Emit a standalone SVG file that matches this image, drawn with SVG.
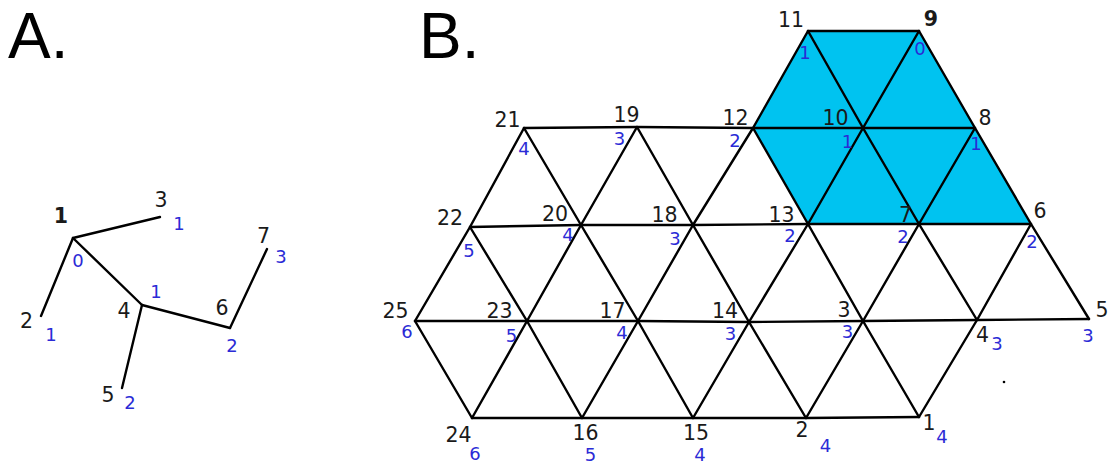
<svg xmlns="http://www.w3.org/2000/svg" width="1110" height="464" viewBox="0 0 1110 464">
<style>
.e{fill:none;stroke:#000;stroke-width:2.4;stroke-linejoin:round;stroke-linecap:round}
.n{font-family:"DejaVu Sans",sans-serif;font-size:20.5px;fill:#1a1a1a;text-anchor:middle}
.b{font-weight:bold}
.i{font-family:"DejaVu Sans",sans-serif;font-size:18px;fill:#2b2bd6;text-anchor:middle}
.h{font-family:"Liberation Sans",Arial,sans-serif;font-size:64px;fill:#000}
</style>
<rect width="1110" height="464" fill="#fff"/>
<text class="h" x="8" y="58">A.</text>
<text class="h" x="419" y="58">B.</text>
<polygon points="808,31 919,31 1031,224 808,224 753,128" fill="#00c3f0"/>
<g id="connectors">
<!-- Panel A -->
<line class="e" x1="73" y1="238" x2="160" y2="217"/>
<line class="e" x1="73" y1="238" x2="41" y2="316"/>
<line class="e" x1="73" y1="238" x2="142" y2="305"/>
<line class="e" x1="142" y1="305" x2="230" y2="328"/>
<line class="e" x1="230" y1="328" x2="267" y2="249"/>
<line class="e" x1="142" y1="305" x2="122" y2="388"/>
<!-- Panel B horizontals -->
<polyline class="e" points="808,31 919,31"/>
<polyline class="e" points="524,128 637,127 753,128 863,128 975,128"/>
<polyline class="e" points="470,227 581,225 693,225 808,224 919,224 1031,224"/>
<polyline class="e" points="415,321 527,321 638,321 749,322 863,321 977,320 1089,319"/>
<polyline class="e" points="472,418 582,418 693,418 806,418 919,417"/>
<!-- "/" diagonals -->
<polyline class="e" points="582,418 638,321 693,225 753,128 808,31"/>
<polyline class="e" points="693,418 749,322 808,224 863,128 919,31"/>
<polyline class="e" points="806,418 863,321 919,224 975,128"/>
<polyline class="e" points="919,417 977,320 1031,224"/>
<polyline class="e" points="472,418 527,321 581,225 637,127"/>
<polyline class="e" points="415,321 470,227 524,128"/>
<!-- "\" diagonals -->
<polyline class="e" points="808,31 863,128 919,224 977,320"/>
<polyline class="e" points="919,31 975,128 1031,224 1089,319"/>
<polyline class="e" points="753,128 808,224 863,321 919,417"/>
<polyline class="e" points="637,127 693,225 749,322 806,418"/>
<polyline class="e" points="524,128 581,225 638,321 693,418"/>
<polyline class="e" points="470,227 527,321 582,418"/>
<polyline class="e" points="415,321 472,418"/>
</g>
<!-- Panel A nodes -->
<g id="a1"><text class="n b" x="61" y="223">1</text><text class="i" x="78" y="267">0</text></g>
<g id="a2"><text class="n" x="26.5" y="328">2</text><text class="i" x="51" y="341">1</text></g>
<g id="a3"><text class="n" x="161" y="207">3</text><text class="i" x="179" y="230">1</text></g>
<g id="a4"><text class="n" x="124" y="318">4</text><text class="i" x="156" y="298">1</text></g>
<g id="a5"><text class="n" x="108" y="402">5</text><text class="i" x="130" y="409">2</text></g>
<g id="a6"><text class="n" x="222" y="315">6</text><text class="i" x="232" y="352">2</text></g>
<g id="a7"><text class="n" x="263.5" y="243">7</text><text class="i" x="281" y="263">3</text></g>
<!-- Panel B nodes -->
<g id="b11"><text class="n" x="791" y="27">11</text><text class="i" x="805" y="59">1</text></g>
<g id="b9"><text class="n b" x="931" y="26">9</text><text class="i" x="920" y="55">0</text></g>
<g id="b10"><text class="n" x="835.5" y="125">10</text><text class="i" x="847.5" y="148">1</text></g>
<g id="b8"><text class="n" x="985" y="125">8</text><text class="i" x="976" y="150">1</text></g>
<g id="b12"><text class="n" x="735.5" y="125">12</text><text class="i" x="735" y="147">2</text></g>
<g id="b21"><text class="n" x="507.5" y="127">21</text><text class="i" x="524" y="155">4</text></g>
<g id="b19"><text class="n" x="626.5" y="122">19</text><text class="i" x="619.5" y="145">3</text></g>
<g id="b22"><text class="n" x="450" y="225">22</text><text class="i" x="469" y="257">5</text></g>
<g id="b20"><text class="n" x="555" y="221">20</text><text class="i" x="568" y="241">4</text></g>
<g id="b18"><text class="n" x="664.5" y="222">18</text><text class="i" x="675" y="245">3</text></g>
<g id="b13"><text class="n" x="781.5" y="222">13</text><text class="i" x="790" y="242">2</text></g>
<g id="b7"><text class="n" x="905.5" y="222">7</text><text class="i" x="903" y="243">2</text></g>
<g id="b6"><text class="n" x="1040" y="218">6</text><text class="i" x="1032" y="248">2</text></g>
<g id="b25"><text class="n" x="395.5" y="318">25</text><text class="i" x="407" y="338">6</text></g>
<g id="b23"><text class="n" x="499.5" y="318">23</text><text class="i" x="511.5" y="342">5</text></g>
<g id="b17"><text class="n" x="612.5" y="318">17</text><text class="i" x="622" y="339">4</text></g>
<g id="b14"><text class="n" x="725" y="318">14</text><text class="i" x="730.5" y="340">3</text></g>
<g id="b3"><text class="n" x="844" y="317">3</text><text class="i" x="847.5" y="338">3</text></g>
<g id="b4"><text class="n" x="982.5" y="342">4</text><text class="i" x="997" y="350">3</text></g>
<g id="b5"><text class="n" x="1102" y="317">5</text><text class="i" x="1088" y="342">3</text></g>
<g id="b24"><text class="n" x="458.5" y="442">24</text><text class="i" x="475" y="460">6</text></g>
<g id="b16"><text class="n" x="585.5" y="440">16</text><text class="i" x="590.5" y="461">5</text></g>
<g id="b15"><text class="n" x="696" y="440">15</text><text class="i" x="700" y="461">4</text></g>
<g id="b2"><text class="n" x="802" y="437">2</text><text class="i" x="825.5" y="452">4</text></g>
<g id="b1"><text class="n" x="929" y="430">1</text><text class="i" x="942" y="443">4</text></g>
<circle cx="1004" cy="382" r="1.3" fill="#000"/>
</svg>
